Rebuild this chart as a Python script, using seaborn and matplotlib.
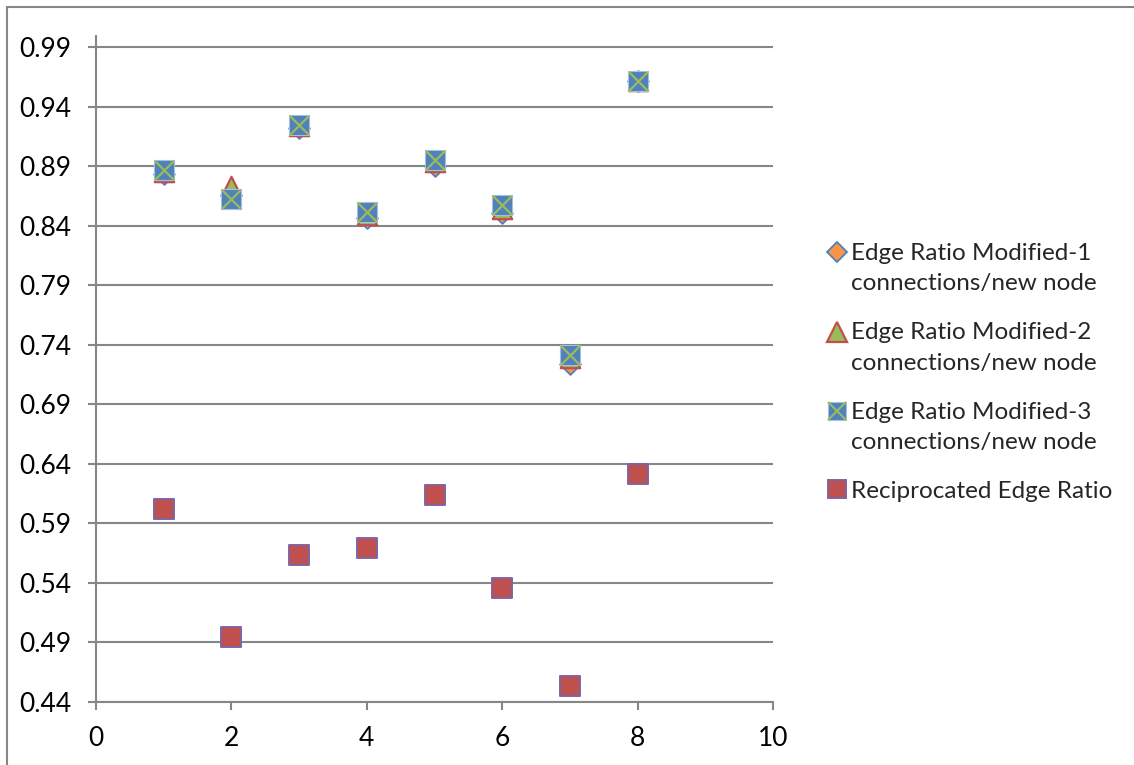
import matplotlib
matplotlib.use("Agg")
import matplotlib.pyplot as plt
import seaborn as sns
import pandas as pd
from matplotlib.lines import Line2D
from matplotlib.patches import Rectangle
from matplotlib.legend_handler import HandlerTuple, HandlerLine2D

x_values = [1, 2, 3, 4, 5, 6, 7, 8]
mod1 = [0.883, 0.866, 0.922, 0.846, 0.890, 0.851, 0.724, 0.961]
mod2 = [0.885, 0.873, 0.924, 0.849, 0.893, 0.854, 0.729, 0.9614]
mod3 = [0.887, 0.8625, 0.9247, 0.8518, 0.8947, 0.8569, 0.7316, 0.9618]
recip = [0.6022, 0.4942, 0.5637, 0.5694, 0.614, 0.5358, 0.4537, 0.6316]

labels = ["Edge Ratio Modified-1\nconnections/new node",
          "Edge Ratio Modified-2\nconnections/new node",
          "Edge Ratio Modified-3\nconnections/new node",
          "Reciprocated Edge Ratio"]
y_ticks = [0.44, 0.49, 0.54, 0.59, 0.64, 0.69, 0.74, 0.79, 0.84, 0.89, 0.94, 0.99]
x_ticks = [0, 2, 4, 6, 8, 10]

BLUE = "#4F81BD"
RED = "#C0504D"
GREEN = "#9BBB59"
PURPLE = "#8064A2"
ORANGE = "#F79646"
GRAY = "#868686"
FS = 19
LFS = 17.5

sns.set_theme(style="white")
plt.rcParams['font.family'] = ['Lato', 'DejaVu Sans']

fig = plt.figure(figsize=(11.34, 7.65), dpi=100)
ax = fig.add_axes([96/1134, 1-702/765, (773-96)/1134, (702-36)/765])

df = pd.DataFrame({"x": x_values, "m1": mod1, "m2": mod2, "m3": mod3, "r": recip})

S = 205
sns.scatterplot(data=df, x="x", y="m1", ax=ax, marker="D", s=S*0.55, color=ORANGE,
                edgecolor=BLUE, linewidth=1.3, zorder=3, legend=False)
sns.scatterplot(data=df, x="x", y="m2", ax=ax, marker="^", s=S*0.95, color=GREEN,
                edgecolor=RED, linewidth=1.6, zorder=4, legend=False)
sns.scatterplot(data=df, x="x", y="m3", ax=ax, marker="s", s=S, color=BLUE,
                edgecolor="#A7BFDE", linewidth=0.8, zorder=5, legend=False)
sns.scatterplot(data=df, x="x", y="m3", ax=ax, marker="x", s=S*0.95, color=GREEN,
                linewidth=1.6, zorder=6, legend=False)
sns.scatterplot(data=df, x="x", y="r", ax=ax, marker="s", s=S, color=RED,
                edgecolor=PURPLE, linewidth=1.4, zorder=7, legend=False)

ax.set_xlim(0, 10)
ax.set_ylim(0.44, 0.9992)
ax.set_xticks(x_ticks)
ax.set_xticklabels([str(v) for v in x_ticks])
ax.set_yticks(y_ticks)
ax.set_yticklabels([f"{v:.2f}" for v in y_ticks])
ax.set_xlabel("")
ax.set_ylabel("")

ax.yaxis.grid(True, color=GRAY, linewidth=1.5)
ax.xaxis.grid(False)
ax.set_axisbelow(True)
for side in ["top", "right"]:
    ax.spines[side].set_visible(False)
for side in ["left", "bottom"]:
    ax.spines[side].set_color(GRAY)
    ax.spines[side].set_linewidth(1.5)
ax.tick_params(axis="both", which="major", direction="out", length=6, width=1.5,
               color=GRAY, labelsize=FS, labelcolor="black",
               bottom=True, left=True)
ax.tick_params(axis="y", pad=12)
ax.tick_params(axis="x", pad=11)


class TopHandler(HandlerLine2D):
    def __init__(self, shift=0.0, **kw):
        super().__init__(**kw)
        self.shift = shift

    def create_artists(self, legend, orig_handle, xdescent, ydescent, width, height,
                       fontsize, trans):
        return super().create_artists(legend, orig_handle, xdescent,
                                      ydescent - 2 * self.shift, width, height,
                                      fontsize, trans)


h1 = Line2D([], [], marker="D", linestyle="none", markersize=10.5, markerfacecolor=ORANGE,
            markeredgecolor=BLUE, markeredgewidth=1.3)
h2 = Line2D([], [], marker="^", linestyle="none", markersize=14.5, markerfacecolor=GREEN,
            markeredgecolor=RED, markeredgewidth=1.6)
h3a = Line2D([], [], marker="s", linestyle="none", markersize=13, markerfacecolor=BLUE,
             markeredgecolor="#A7BFDE", markeredgewidth=0.8)
h3b = Line2D([], [], marker="x", linestyle="none", markersize=12.5, markeredgecolor=GREEN,
             markeredgewidth=1.5)
h4 = Line2D([], [], marker="s", linestyle="none", markersize=13, markerfacecolor=RED,
            markeredgecolor=PURPLE, markeredgewidth=1.4)

SH = 11.8
hm = {h1: TopHandler(shift=SH), h2: TopHandler(shift=SH),
      h3a: TopHandler(shift=SH), h3b: TopHandler(shift=SH),
      h4: TopHandler(shift=0),
      tuple: HandlerTuple(ndivide=1, pad=0)}

leg = fig.legend([h1, h2, (h3a, h3b), h4], labels, handler_map=hm,
                 loc="upper left", bbox_to_anchor=(827/1134, 1-243/765),
                 frameon=False, fontsize=LFS, handlelength=0.8, handletextpad=0.2,
                 labelspacing=1.15, borderpad=0, borderaxespad=0)
for t in leg.get_texts():
    t.set_linespacing(1.55)

fig.add_artist(Rectangle((7/1134, -0.5), 2, 1 - 6.5/765 + 0.5, fill=False,
                         edgecolor=GRAY, linewidth=1.5, transform=fig.transFigure))

fig.savefig("out.png", dpi=100)
